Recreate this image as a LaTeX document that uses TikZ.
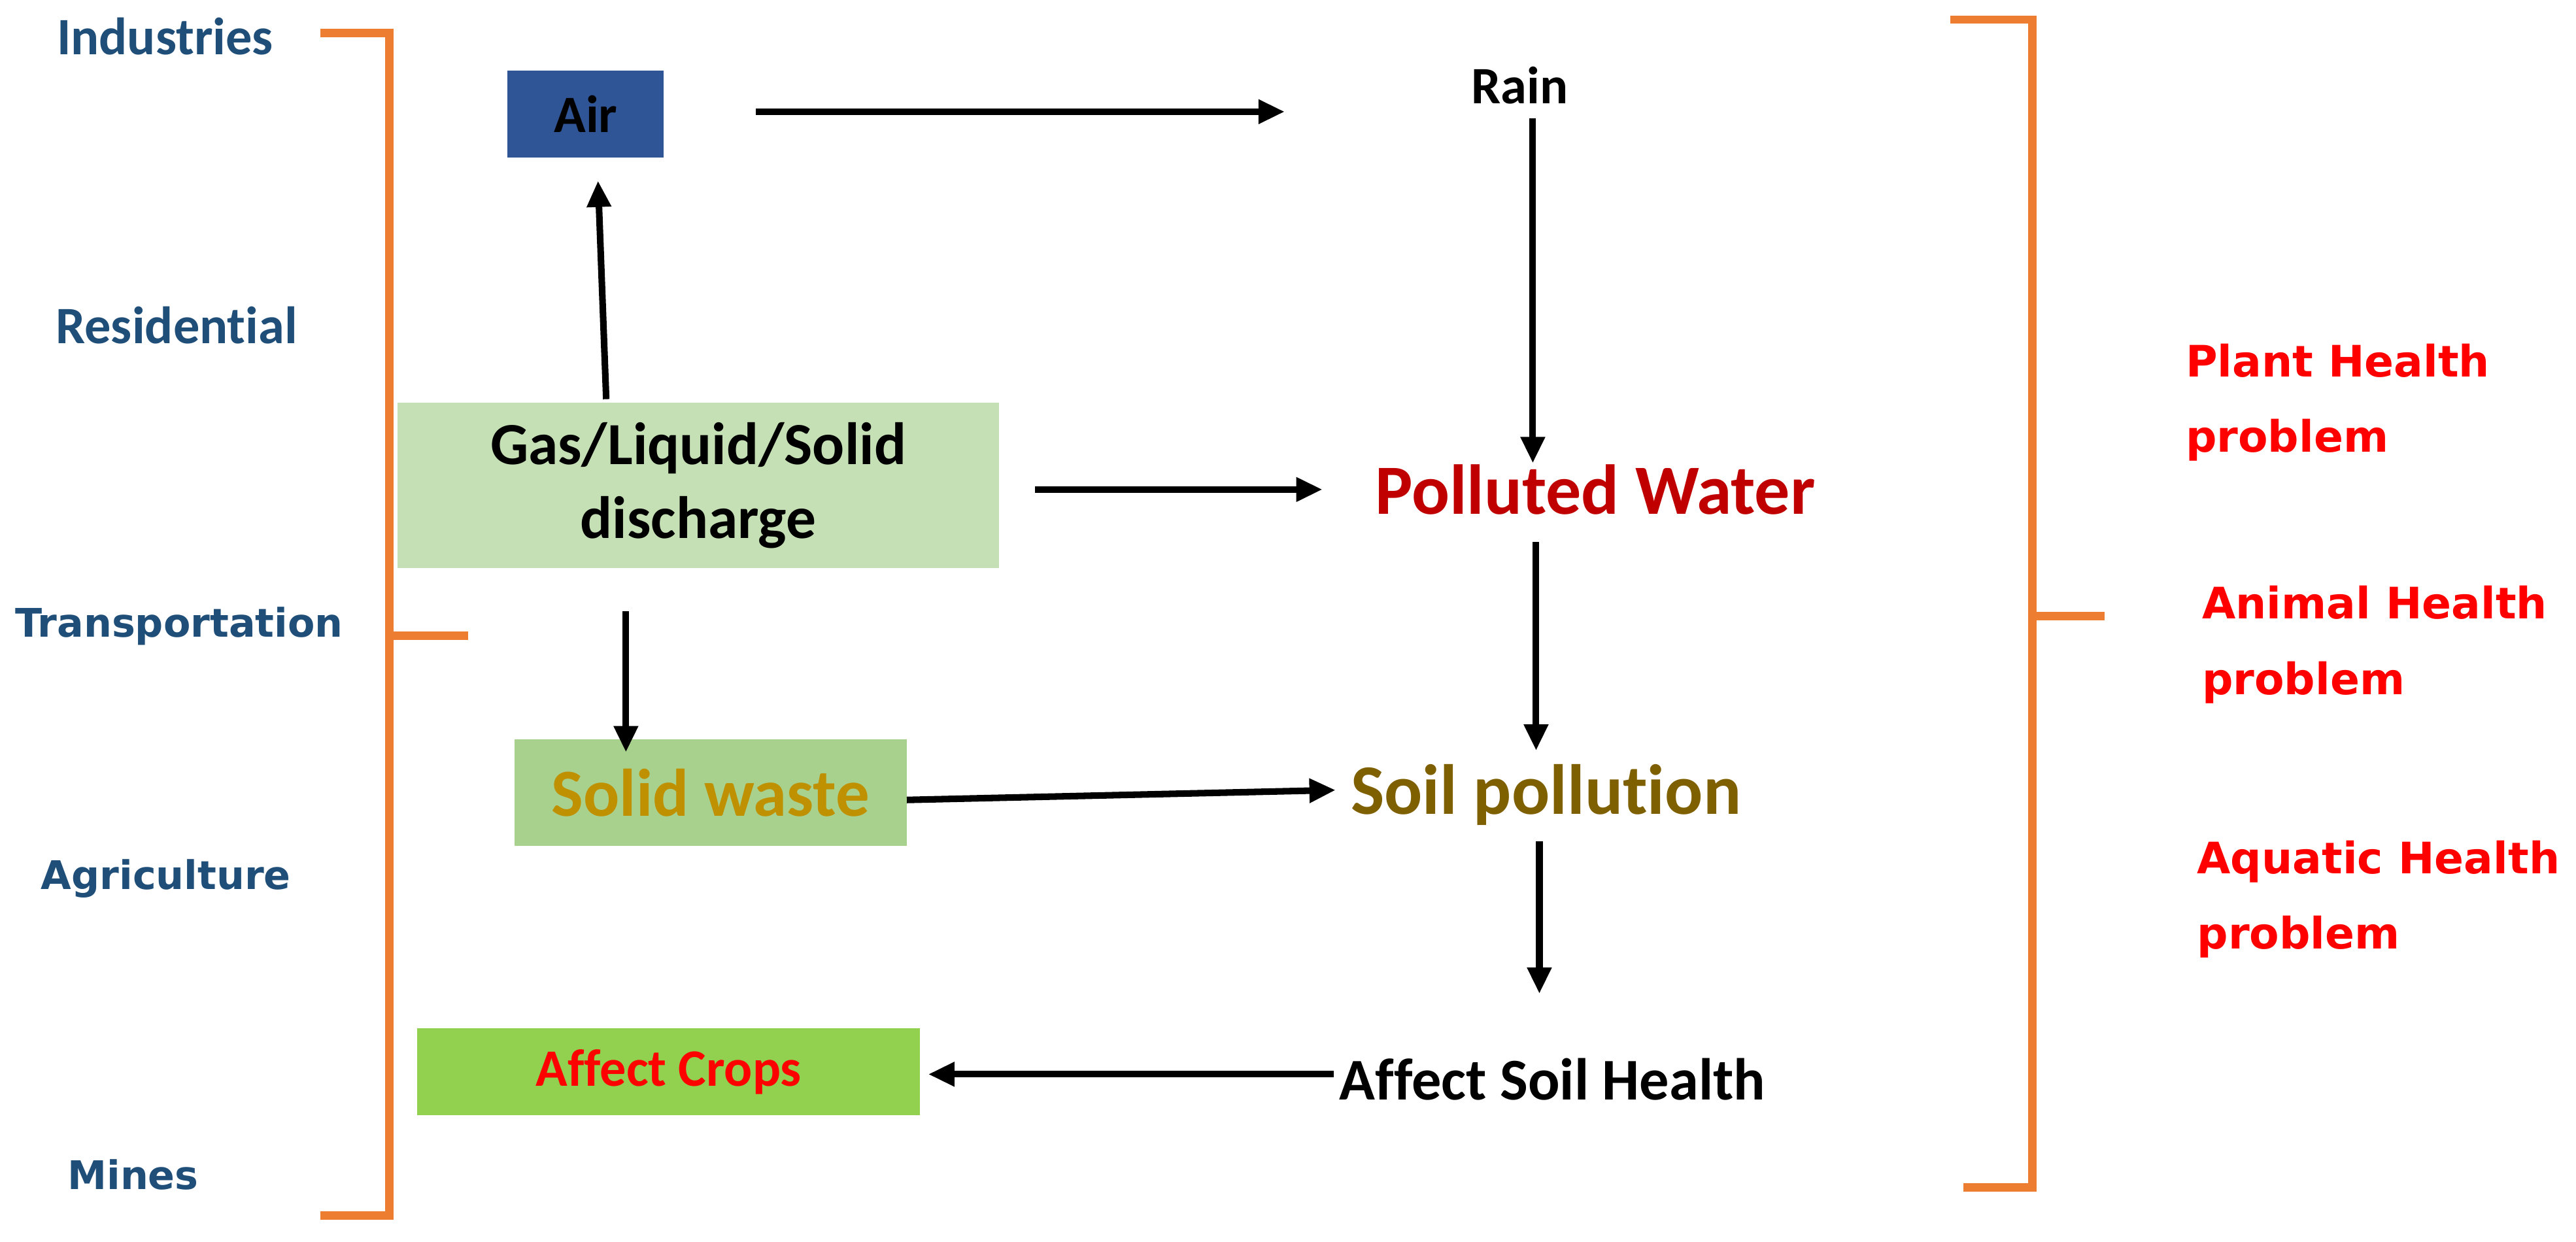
\documentclass[tikz,border=0pt]{standalone}
\usepackage{fontspec}
\setmainfont[Ligatures={NoCommon}]{Carlito}
\newfontfamily\verd{DejaVu Sans}
\usetikzlibrary{arrows.meta,calc}
\definecolor{srcblue}{HTML}{1F4E79}
\definecolor{orangeb}{HTML}{ED7D31}
\definecolor{airblue}{HTML}{2F5597}
\definecolor{gasgreen}{HTML}{C5E0B4}
\definecolor{solidgreen}{HTML}{A9D18E}
\definecolor{cropgreen}{HTML}{92D050}
\definecolor{darkred}{HTML}{C00000}
\definecolor{gold}{HTML}{BF9000}
\definecolor{soilbrown}{HTML}{7F6000}
\definecolor{brightred}{HTML}{FF0000}
\begin{document}
\begin{tikzpicture}[x=0.5pt,y=-0.5pt,
  srccal/.style={text=srcblue, font=\bfseries\fontsize{16}{19}\selectfont, inner sep=0},
  srcver/.style={text=srcblue, font=\verd\bfseries\fontsize{12}{14}\selectfont, inner sep=0},
  effect/.style={text=brightred, font=\verd\bfseries\fontsize{13.2}{23}\selectfont, align=left, anchor=west, inner sep=0},
  boxnode/.style={inner sep=0, anchor=center},
  plain/.style={inner sep=0, anchor=center},
  arr/.style={-{Triangle[length=8pt,width=7pt]}, line width=2pt, black},
  brk/.style={draw=orangeb, line width=2.5pt}]
\useasboundingbox[fill=white] (0,0) rectangle (1568,756);

% left source labels
\node[srccal] (ind) at (100.5,22) {Industries};
\node[srccal] (res) at (107.5,198) {Residential};
\node[srcver] (tra) at (109,381) {Transportation};
\node[srcver] (agr) at (101,535) {Agriculture};
\node[srcver] (min) at (81,715) {Mines};

% left bracket
\draw[brk] (195,20) -- (237,20) -- (237,740) -- (195,740);
\draw[brk] (237,387) -- (285,387);

% right bracket
\draw[brk] (1187,12) -- (1237,12) -- (1237,723) -- (1195,723);
\draw[brk] (1237,375) -- (1281,375);

% boxes
\node[boxnode, fill=airblue, minimum width=47.5pt, minimum height=26.5pt,
      font=\bfseries\fontsize{16}{19}\selectfont] (air) at (356.5,69.5) {Air};
\node[boxnode, fill=gasgreen, minimum width=183pt, minimum height=50.5pt,
      align=center, font=\bfseries\fontsize{18.2}{22.5}\selectfont] (gas) at (425,295.5) {Gas/Liquid/Solid\\discharge};
\node[boxnode, fill=solidgreen, minimum width=119.5pt, minimum height=32.5pt,
      text=gold, font=\bfseries\fontsize{20.5}{24}\selectfont] (solid) at (432.5,482.5) {Solid waste};
\node[boxnode, fill=cropgreen, minimum width=153pt, minimum height=26.5pt,
      text=brightred, font=\bfseries\fontsize{16}{19}\selectfont] (crops) at (407,652.5) {Affect Crops};

% plain text nodes
\node[plain, font=\bfseries\fontsize{16}{19}\selectfont] (rain) at (925,52) {Rain};
\node[plain, text=darkred, font=\bfseries\fontsize{21.5}{25}\selectfont] (water) at (971,298) {Polluted Water};
\node[plain, text=soilbrown, font=\bfseries\fontsize{21.6}{25}\selectfont] (soil) at (941,484) {Soil pollution};
\node[plain, font=\bfseries\fontsize{18}{22}\selectfont] (health) at (945,657) {Affect Soil Health};

% right effects
\node[effect] (plant) at (1330,245) {Plant Health\\problem};
\node[effect] (animal) at (1340,392.5) {Animal Health\\problem};
\node[effect] (aquatic) at (1337,547.5) {Aquatic Health\\problem};

% connectors
\draw[arr] ($(gas.center)+(-56,-52.5)$) -- ($(air.center)+(7.5,40.5)$);
\draw[arr] ($(air.center)+(103.5,-1.5)$) -- ($(rain.center)+(-143,16)$);
\draw[arr] ($(rain.center)+(8,20)$) -- ($(water.center)+(-38,-16)$);
\draw[arr] ($(gas.center)+(205,2.5)$) -- ($(water.center)+(-166,0)$);
\draw[arr] ($(water.center)+(-36,32)$) -- ($(soil.center)+(-6,-27)$);
\draw[arr] ($(gas.center)+(-44,76.5)$) -- ($(solid.center)+(-51.5,-24.5)$);
\draw[arr] ($(solid.center)+(119.5,4.5)$) -- ($(soil.center)+(-128,-3)$);
\draw[arr] ($(soil.center)+(-4,28)$) -- ($(health.center)+(-8,-52)$);
\draw[arr] ($(health.center)+(-133,-3)$) -- ($(crops.center)+(158,1.5)$);
\end{tikzpicture}
\end{document}
